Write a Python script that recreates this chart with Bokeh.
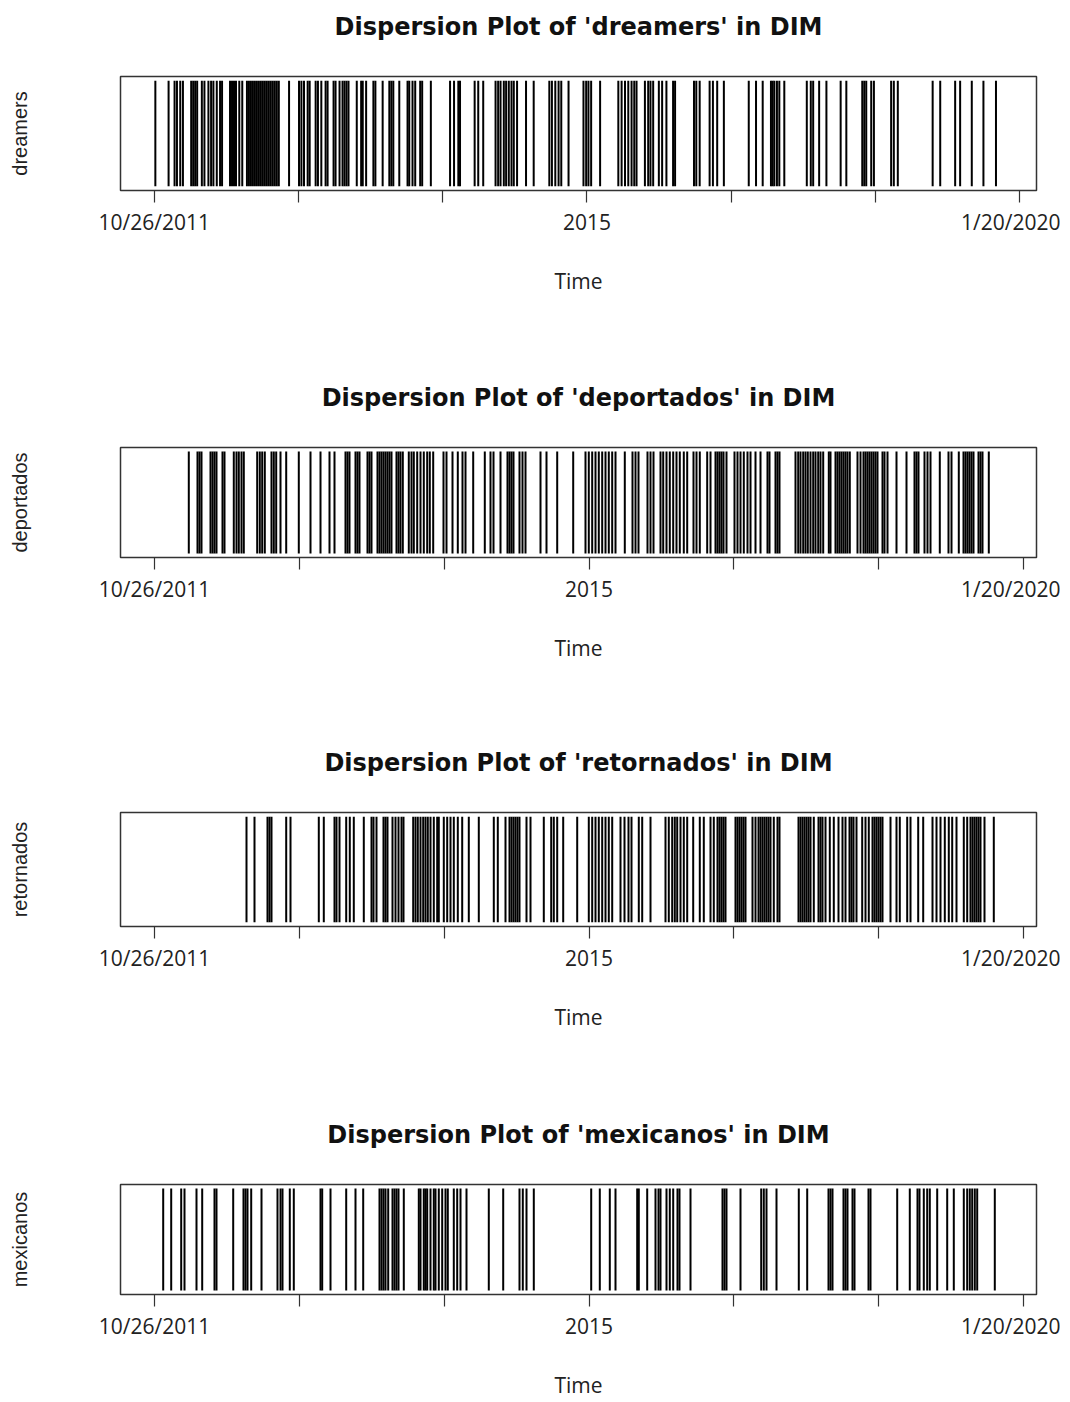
from bokeh.plotting import figure
from bokeh.models import Range1d, FixedTicker, ColumnDataSource, LinearAxis
from bokeh.layouts import column
from bokeh.embed import file_html
from bokeh.resources import INLINE

# ---- data: term positions along the corpus (scaled index; 0 = 10/26/2011, 8690 = 1/20/2020)
terms = ["dreamers", "deportados", "retornados", "mexicanos"]

dreamers_pos = [10, 143, 203, 227, 260, 287, 370, 390, 410, 430, 477, 503, 543, 570, 593, 627,
                660, 680, 760, 780, 800, 820, 853, 883, 930, 950, 970, 990, 1010, 1030, 1050, 1070,
                1090, 1110, 1130, 1150, 1170, 1190, 1210, 1230, 1250, 1353, 1453, 1477, 1503, 1540,
                1560, 1620, 1643, 1677, 1720, 1740, 1800, 1820, 1860, 1890, 1910, 1930, 1950, 2033,
                2077, 2093, 2127, 2200, 2220, 2293, 2360, 2380, 2400, 2460, 2543, 2560, 2593, 2620,
                2670, 2690, 2777, 2970, 3010, 3053, 3070, 3217, 3253, 3303, 3427, 3453, 3477, 3510,
                3533, 3560, 3587, 3610, 3643, 3733, 3810, 3967, 3993, 4027, 4060, 4087, 4160, 4310,
                4337, 4360, 4387, 4477, 4660, 4693, 4727, 4760, 4793, 4820, 4843, 4927, 4960, 4983,
                5010, 5067, 5100, 5143, 5210, 5230, 5420, 5443, 5477, 5577, 5610, 5653, 5720, 5970,
                6043, 6110, 6193, 6210, 6227, 6253, 6277, 6327, 6553, 6593, 6617, 6677, 6750, 6893,
                6950, 7110, 7130, 7150, 7200, 7227, 7400, 7427, 7467, 7817, 7893, 8043, 8093, 8210,
                8327, 8453]

deportados_pos = [343, 430, 450, 470, 560, 580, 600, 620, 680, 700, 793, 820, 843, 870, 893, 1027,
                  1053, 1077, 1103, 1170, 1193, 1217, 1260, 1317, 1443, 1560, 1660, 1750, 1800, 1910,
                  1930, 1950, 2010, 2030, 2050, 2130, 2150, 2170, 2230, 2250, 2270, 2290, 2310, 2330,
                  2350, 2370, 2420, 2440, 2460, 2483, 2543, 2570, 2593, 2627, 2660, 2693, 2727, 2753,
                  2787, 2890, 2920, 2980, 3033, 3080, 3110, 3187, 3303, 3360, 3390, 3460, 3530, 3550,
                  3570, 3590, 3650, 3680, 3710, 3860, 3920, 4027, 4187, 4310, 4343, 4377, 4410, 4443,
                  4477, 4510, 4543, 4577, 4610, 4703, 4780, 4810, 4840, 4930, 4960, 4990, 5060, 5087,
                  5120, 5153, 5187, 5220, 5253, 5293, 5327, 5390, 5420, 5453, 5527, 5560, 5610, 5630,
                  5650, 5670, 5690, 5720, 5800, 5830, 5860, 5893, 5930, 5960, 6010, 6060, 6130, 6150,
                  6210, 6230, 6250, 6410, 6437, 6460, 6487, 6510, 6533, 6560, 6587, 6610, 6637, 6660,
                  6687, 6743, 6760, 6810, 6830, 6850, 6870, 6890, 6910, 6930, 6953, 7030, 7060, 7090,
                  7110, 7130, 7150, 7170, 7190, 7210, 7230, 7280, 7300, 7330, 7420, 7520, 7600, 7620,
                  7640, 7700, 7730, 7760, 7853, 7940, 7970, 8043, 8090, 8110, 8130, 8150, 8170, 8190,
                  8240, 8260, 8280, 8343]

retornados_pos = [920, 1000, 1130, 1150, 1170, 1317, 1360, 1643, 1693, 1800, 1820, 1850, 1917, 1953,
                  1993, 2093, 2170, 2190, 2220, 2290, 2310, 2330, 2380, 2410, 2440, 2470, 2490, 2587,
                  2610, 2633, 2660, 2687, 2710, 2733, 2760, 2793, 2827, 2843, 2893, 2927, 2960, 2993,
                  3033, 3077, 3143, 3243, 3393, 3433, 3510, 3550, 3570, 3590, 3610, 3630, 3650, 3720,
                  3760, 3893, 3967, 3993, 4027, 4087, 4227, 4343, 4377, 4410, 4443, 4477, 4510, 4543,
                  4577, 4660, 4700, 4740, 4770, 4843, 4877, 4960, 5110, 5143, 5177, 5203, 5227, 5260,
                  5293, 5327, 5387, 5453, 5493, 5560, 5593, 5630, 5650, 5670, 5690, 5710, 5810, 5830,
                  5850, 5870, 5890, 5910, 5980, 6010, 6040, 6060, 6080, 6100, 6120, 6140, 6160, 6193,
                  6230, 6250, 6440, 6460, 6480, 6500, 6520, 6540, 6560, 6593, 6640, 6660, 6680, 6710,
                  6753, 6793, 6840, 6880, 6910, 6950, 6970, 6990, 7020, 7077, 7110, 7143, 7180, 7200,
                  7220, 7240, 7260, 7280, 7360, 7420, 7453, 7527, 7560, 7637, 7687, 7780, 7820, 7860,
                  7903, 7943, 7977, 8020, 8093, 8127, 8160, 8180, 8200, 8220, 8240, 8260, 8300, 8393]

mexicanos_pos = [87, 167, 267, 300, 420, 477, 600, 620, 787, 890, 910, 930, 967, 1070, 1230, 1260,
                 1280, 1353, 1393, 1660, 1677, 1760, 1917, 2010, 2087, 2250, 2270, 2290, 2310, 2337,
                 2380, 2400, 2420, 2440, 2493, 2643, 2660, 2693, 2710, 2727, 2760, 2793, 2810, 2843,
                 2877, 2910, 2933, 2993, 3027, 3060, 3120, 3343, 3487, 3650, 3683, 3720, 3793, 4367,
                 4453, 4553, 4610, 4827, 4843, 4927, 5010, 5040, 5060, 5120, 5153, 5187, 5230, 5250,
                 5360, 5680, 5700, 5720, 5860, 6067, 6093, 6120, 6220, 6443, 6527, 6740, 6760, 6780,
                 6890, 6910, 6930, 6980, 7000, 7140, 7160, 7427, 7553, 7630, 7650, 7693, 7727, 7753,
                 7827, 7927, 7993, 8093, 8127, 8153, 8177, 8203, 8227, 8403]

series = [dreamers_pos, deportados_pos, retornados_pos, mexicanos_pos]

tick_values = [0, 1448, 2897, 4345, 5793, 7242, 8690]
tick_labels = ["10/26/2011", "", "", "2015", "", "", "1/20/2020"]
x_label = "Time"
title_template = "Dispersion Plot of '{}' in DIM"

# ---- layout settings (pixels)
FIG_W = 1060
BORDER_LEFT = 120
frame_widths = [920, 916, 916, 916]
x_ends = [8860, 8820, 8820, 8820]
frame_heights = [114, 110, 114, 115]
border_tops = [76, 68, 68, 68]
fig_heights = [379, 365, 372, 285]
time_standoffs = [28, 28, 28, 28]

panels = []
for i, term in enumerate(terms):
    fw, fh, H, bt = frame_widths[i], frame_heights[i], fig_heights[i], border_tops[i]
    p = figure(width=FIG_W, height=H,
               x_range=Range1d(-340, x_ends[i]), y_range=Range1d(-0.04, 1.04),
               output_backend="svg", toolbar_location=None,
               min_border_left=BORDER_LEFT, min_border_right=FIG_W - BORDER_LEFT - fw,
               min_border_top=bt, min_border_bottom=H - bt - fh,
               background_fill_color="white", border_fill_color="white")
    src = ColumnDataSource(dict(x=series[i], y0=[0] * len(series[i]), y1=[1] * len(series[i])))
    p.segment(x0="x", y0="y0", x1="x", y1="y1", source=src,
              line_color="black", line_width=2.0)

    # empty spacer between title and box (invisible axis label takes the room)
    spacer = LinearAxis(ticker=FixedTicker(ticks=[]), axis_line_color=None,
                        major_tick_line_color=None, minor_tick_line_color=None,
                        major_tick_in=0, major_tick_out=0, minor_tick_out=0,
                        major_label_standoff=0, major_label_text_font_size="0px",
                        axis_label="\u00a0", axis_label_text_alpha=0.0,
                        axis_label_text_font_size="10px", axis_label_standoff=21)
    p.add_layout(spacer, "above")

    # title
    p.title.text = title_template.format(term)
    p.title.align = "center"
    p.title.text_font = "DejaVu Sans"
    p.title.text_font_style = "bold"
    p.title.text_font_size = "24px"
    p.title.text_color = "#111111"
    p.title.standoff = 2

    # grids / box
    p.xgrid.visible = False
    p.ygrid.visible = False
    p.outline_line_color = "#333333"
    p.outline_line_width = 1.5
    p.outline_line_alpha = 1.0

    # x axis
    xa = p.below[0]
    xa.ticker = FixedTicker(ticks=tick_values)
    xa.major_label_overrides = {t: lab for t, lab in zip(tick_values, tick_labels)}
    xa.minor_tick_line_color = None
    xa.major_tick_in = 0
    xa.major_tick_out = 12
    xa.major_tick_line_color = "#333333"
    xa.major_tick_line_width = 1.2
    xa.axis_line_color = None
    xa.major_label_standoff = 5
    xa.major_label_text_font = "Open Sans"
    xa.major_label_text_font_size = "21px"
    xa.major_label_text_color = "#222222"
    xa.axis_label = x_label
    xa.axis_label_text_font = "Open Sans"
    xa.axis_label_text_font_style = "normal"
    xa.axis_label_text_font_size = "21px"
    xa.axis_label_text_color = "#222222"
    xa.axis_label_standoff = time_standoffs[i]

    # y axis: only the term label
    ya = p.left[0]
    ya.ticker = FixedTicker(ticks=[])
    ya.minor_tick_line_color = None
    ya.major_tick_line_color = None
    ya.major_tick_in = 0
    ya.major_tick_out = 0
    ya.axis_line_color = None
    ya.major_label_standoff = 0
    ya.axis_label = term
    ya.axis_label_text_font = "Liberation Sans"
    ya.axis_label_text_font_style = "normal"
    ya.axis_label_text_font_size = "20px"
    ya.axis_label_text_color = "#222222"
    ya.axis_label_standoff = 90

    panels.append(p)

layout = column(*panels)
open("out.html", "w").write(file_html(layout, INLINE))
